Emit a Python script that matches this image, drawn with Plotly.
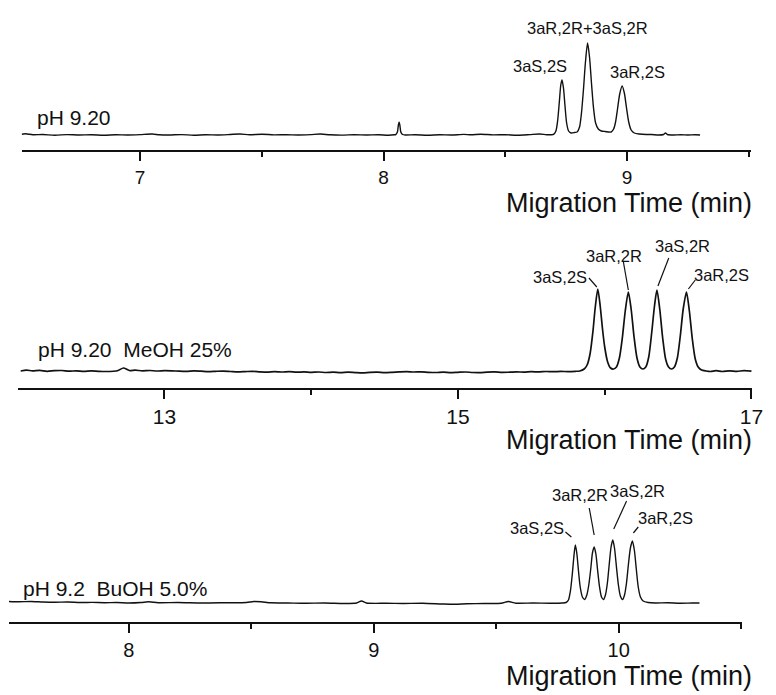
import plotly.graph_objects as go

# ---------------- DATA ----------------
# Panel 1: pH 9.20
t1 = [6.514, 6.53, 6.56, 6.60, 6.65, 6.70, 6.75, 6.80, 6.85, 6.90, 6.95, 7.00, 7.05, 7.08,
      7.12, 7.17, 7.22, 7.27, 7.32, 7.37, 7.41, 7.45, 7.50, 7.55, 7.60, 7.65, 7.70, 7.74,
      7.78, 7.83, 7.88, 7.93, 7.98, 8.02, 8.045, 8.050, 8.057, 8.061, 8.064, 8.067, 8.071,
      8.078, 8.09, 8.13, 8.18, 8.23, 8.28, 8.33, 8.36, 8.40, 8.45, 8.50, 8.55, 8.60, 8.64,
      8.67, 8.69,
      8.698, 8.708, 8.715, 8.722, 8.728, 8.733, 8.739, 8.745, 8.752, 8.760, 8.770, 8.785,
      8.795, 8.805, 8.813, 8.821, 8.829, 8.838, 8.846, 8.854, 8.862, 8.871, 8.882, 8.895, 8.91,
      8.935, 8.945, 8.953, 8.961, 8.970, 8.980, 8.989, 8.998, 9.007, 9.017, 9.03, 9.05, 9.08,
      9.10, 9.13, 9.15, 9.158, 9.166, 9.19, 9.22, 9.25, 9.28, 9.30]
s1 = [0.8, 1.2, 0.2, 0.5, -0.2, 0.4, 0.0, 0.3, -0.2, 0.2, 0.0, 0.4, 1.0, 0.2,
      0.0, 0.4, -0.2, 0.3, 0.0, 0.5, 1.0, 0.2, 0.8, 0.1, 0.3, 0.0, 0.4, 1.0,
      0.2, -0.1, 0.3, 0.0, 0.2, -0.2, 0.2, 0.4, 3.0, 10.0, 13.0, 10.0, 3.0,
      0.5, 0.0, 0.3, -0.2, 0.2, 0.0, 0.6, 0.2, 0.8, 0.1, 0.3, -0.2, 0.4, 1.0,
      0.3, 0.3,
      0.6, 4.0, 14.0, 33.0, 50.0, 55.0, 47.0, 30.0, 12.0, 4.0, 2.0, 2.5,
      3.0, 8.0, 22.0, 45.0, 72.0, 92.0, 78.0, 52.0, 28.0, 12.0, 6.0, 4.0, 3.5,
      3.0, 6.0, 13.0, 26.0, 41.0, 49.0, 42.0, 27.0, 13.0, 5.0, 2.0, 1.0, 0.5,
      0.5, 0.0, 0.5, 2.0, 0.5, 0.0, 0.3, 0.0, 0.3, 0.0]

# Panel 2: pH 9.20 MeOH 25%
t2 = [12.02, 12.06, 12.1, 12.15, 12.2, 12.25, 12.3, 12.35, 12.4, 12.45, 12.5, 12.55, 12.6,
      12.68, 12.72, 12.76, 12.80, 12.85, 12.90, 12.95, 13.0, 13.05,
      13.1, 13.15, 13.2, 13.25, 13.3, 13.35, 13.4, 13.45, 13.5, 13.55, 13.6, 13.65, 13.7, 13.75,
      13.8, 13.85, 13.9, 13.95, 14.0, 14.05, 14.1, 14.15, 14.2, 14.25,
      14.3, 14.35, 14.4, 14.45, 14.5, 14.55, 14.6, 14.65, 14.7, 14.75, 14.8, 14.85, 14.9, 14.95,
      15.0, 15.05, 15.1, 15.15, 15.2, 15.25, 15.3, 15.35, 15.4, 15.45,
      15.5, 15.55, 15.6, 15.65, 15.7, 15.75, 15.80,
      15.83, 15.86, 15.88, 15.90, 15.92, 15.935, 15.953, 15.97, 15.985, 16.00, 16.02, 16.04, 16.06,
      16.08, 16.10, 16.12, 16.14, 16.161, 16.18, 16.20, 16.22, 16.24, 16.26,
      16.28, 16.30, 16.32, 16.34, 16.356, 16.375, 16.395, 16.415, 16.435, 16.455,
      16.475, 16.495, 16.515, 16.535, 16.557, 16.577, 16.597, 16.617, 16.637, 16.66, 16.69,
      16.72, 16.76, 16.80, 16.85, 16.90, 16.95, 17.0]
s2 = [0.0, 0.8, 0.2, 0.6, -0.3, 0.3, 0.5, -0.2, 0.2, -0.4, 0.1, -0.3, -0.5,
      0.3, 3.0, 0.5, 0.8, 0.2, 0.5, 0.0, 0.4, 0.2,
      -0.2, -0.4, 0.1, -0.2, -0.6, -0.3, -0.1, -0.5, -0.9, -0.6, -0.3, -0.8, -1.1, -0.7,
      -1.0, -0.6, -1.2, -0.9, -1.3, -1.0, -1.5, -1.2, -1.7, -1.2,
      -1.6, -1.9, -1.3, -1.1, -1.6, -1.3, -0.9, -0.6, -1.0, -0.8, -1.3, -1.5, -1.1, -1.7,
      -1.3, -1.0, -1.5, -1.6, -1.1, -0.9, -1.4, -1.2, -0.9, -1.1,
      -0.7, -0.9, -0.5, -0.7, -0.4, -0.6, -0.3,
      0.0, 2.0, 6.0, 17.0, 40.0, 63.0, 82.0, 64.0, 42.0, 24.0, 9.0, 3.0, 2.0,
      4.0, 13.0, 33.0, 60.0, 79.0, 62.0, 34.0, 13.0, 4.0, 2.0,
      4.0, 14.0, 38.0, 66.0, 81.0, 62.0, 33.0, 12.0, 4.0, 2.0,
      4.0, 13.0, 35.0, 62.0, 79.0, 60.0, 32.0, 12.0, 4.0, 1.0, 0.0,
      -0.5, 0.3, -0.5, 0.2, -0.3, 0.3, -0.2]

# Panel 3: pH 9.2 BuOH 5.0%
t3 = [7.51, 7.55, 7.60, 7.65, 7.70, 7.75, 7.80, 7.85, 7.90, 7.95, 8.00, 8.05, 8.08, 8.12,
      8.20, 8.30, 8.40, 8.48, 8.51, 8.54, 8.58, 8.65, 8.72, 8.80, 8.88, 8.93, 8.95, 8.97,
      9.05, 9.12, 9.20, 9.28, 9.33, 9.38, 9.45, 9.52, 9.55, 9.58, 9.65, 9.72, 9.77,
      9.785, 9.795, 9.803, 9.810, 9.817, 9.823, 9.829, 9.836, 9.843, 9.852, 9.861,
      9.870, 9.878, 9.886, 9.893, 9.900, 9.907, 9.914, 9.922, 9.930, 9.938,
      9.946, 9.954, 9.962, 9.969, 9.976, 9.983, 9.991, 9.999, 10.007, 10.016,
      10.024, 10.032, 10.040, 10.048, 10.056, 10.064, 10.072, 10.080, 10.089, 10.10,
      10.12, 10.15, 10.20, 10.25, 10.30, 10.33]
s3 = [1.5, 1.2, 1.5, 1.0, 0.8, 1.0, 0.5, 0.6, 0.3, 0.5, 0.0, 0.5, 1.2, 0.3,
      0.5, 0.0, 0.3, 0.5, 1.5, 1.2, 0.2, 0.0, -0.3, 0.0, -0.5, 0.0, 2.0, 0.0,
      -0.3, -0.5, -0.3, -1.0, -1.3, -0.8, -0.5, -0.3, 1.5, -0.2, 0.0, -0.2, 0.0,
      0.5, 3.0, 12.0, 27.0, 46.0, 58.0, 50.0, 32.0, 16.0, 6.0, 3.5,
      8.0, 18.0, 34.0, 50.0, 56.0, 49.0, 33.0, 16.0, 6.0, 3.5,
      8.0, 20.0, 40.0, 56.0, 63.0, 55.0, 36.0, 18.0, 7.0, 3.5,
      8.0, 20.0, 39.0, 55.0, 62.0, 53.0, 34.0, 16.0, 6.0, 2.0,
      0.5, 0.0, 0.3, -0.2, 0.0, 0.0]

# Peak tables (apex time, apex signal) and labels
peaks1_t = [8.733, 8.838, 8.980]
peaks1_h = [55, 92, 49]
labels1 = ["3aS,2S", "3aR,2R+3aS,2R", "3aR,2S"]

peaks2_t = [15.953, 16.161, 16.356, 16.557]
peaks2_h = [82, 79, 81, 79]
labels2 = ["3aS,2S", "3aR,2R", "3aS,2R", "3aR,2S"]

peaks3_t = [9.823, 9.900, 9.976, 10.056]
peaks3_h = [58, 56, 63, 62]
labels3 = ["3aS,2S", "3aR,2R", "3aS,2R", "3aR,2S"]

conditions = ["pH 9.20", "pH 9.20  MeOH 25%", "pH 9.2  BuOH 5.0%"]
x_title = "Migration Time (min)"

major1 = [7, 8, 9]
minor1 = [7.5, 8.5, 9.5]
major2 = [13, 15, 17]
minor2 = [14, 16]
major3 = [8, 9, 10]
minor3 = [8.5, 9.5, 10.5]

# ---------------- STYLE / LAYOUT ----------------
W, H = 776, 695
FONT = "Liberation Sans, Arial, sans-serif"
INK = "#111111"

panels = [
    dict(t=t1, s=s1, pt=peaks1_t, ph=peaks1_h, lab=labels1, cond=conditions[0],
         major=major1, minor=minor1, xr=[6.514, 9.51], xpx=[22, 762],
         ypx=[15, 150], base_px=135, tickfont=19, cond_xy=(35, 117), title_y=203,
         lab_off=[(-22, 14), (0, 15), (16, 14)], leaders=None, lw=1.4, ticklen=9),
    dict(t=t2, s=s2, pt=peaks2_t, ph=peaks2_h, lab=labels2, cond=conditions[1],
         major=major2, minor=minor2, xr=[12.0, 17.005], xpx=[18, 763],
         ypx=[235, 388], base_px=371, tickfont=21, cond_xy=(37, 349), title_y=440,
         lab_off=[(-38, 12), (-15, 36), (26, 44), (36, 17)],
         leaders=[((-9, 11), (-1, 2)), ((-5, 30), (0, 2)), ((12, 32), (1, 4)), ((9, 12), (2, 3))],
         lw=1.7, ticklen=9),
    dict(t=t3, s=s3, pt=peaks3_t, ph=peaks3_h, lab=labels3, cond=conditions[2],
         major=major3, minor=minor3, xr=[7.51, 10.505], xpx=[9, 753],
         ypx=[470, 622], base_px=603, tickfont=20, cond_xy=(21, 588), title_y=676,
         lab_off=[(-39, 17), (-14, 52), (25, 49), (34, 23)],
         leaders=[((-10, 13), (-4, 8)), ((-5, 39), (0, 12)), ((14, 39), (1, 11)), ((6, 14), (1, 8))],
         lw=1.4, ticklen=9),
]

fig = go.Figure()
layout = dict(width=W, height=H, margin=dict(l=0, r=0, t=0, b=0),
              paper_bgcolor="white", plot_bgcolor="white", showlegend=False,
              font=dict(family=FONT, color=INK))
annotations = []
shapes = []

for i, p in enumerate(panels, start=1):
    xa = "x" if i == 1 else f"x{i}"
    ya = "y" if i == 1 else f"y{i}"
    fig.add_trace(go.Scatter(x=p["t"], y=p["s"], mode="lines", xaxis=xa, yaxis=ya,
                             line=dict(color=INK, width=p["lw"], shape="spline", smoothing=0.7),
                             hoverinfo="skip"))
    ytop_px, ybot_px = p["ypx"]
    ylo = -(ybot_px - p["base_px"])
    yhi = ylo + (ybot_px - ytop_px)
    layout[f"xaxis{'' if i == 1 else i}"] = dict(
        domain=[p["xpx"][0] / W, p["xpx"][1] / W], range=p["xr"], anchor=ya,
        showline=True, linewidth=2, linecolor=INK, showgrid=False, zeroline=False,
        ticks="outside", ticklen=p["ticklen"], tickwidth=2, tickcolor=INK,
        tickmode="array", tickvals=p["major"], ticktext=[str(v) for v in p["major"]],
        tickfont=dict(size=p["tickfont"], family=FONT, color=INK),
        minor=dict(tickmode="array", tickvals=p["minor"], ticks="outside", ticklen=5,
                   tickwidth=2, tickcolor=INK, showgrid=False),
        fixedrange=True)
    layout[f"yaxis{'' if i == 1 else i}"] = dict(
        domain=[1 - ybot_px / H, 1 - ytop_px / H], range=[ylo, yhi], anchor=xa,
        visible=False, fixedrange=True)

    ppm = (p["xpx"][1] - p["xpx"][0]) / (p["xr"][1] - p["xr"][0])  # px per minute
    for j, (tt, hh, lab) in enumerate(zip(p["pt"], p["ph"], p["lab"])):
        dx, dy = p["lab_off"][j]
        annotations.append(dict(x=tt + dx / ppm, y=hh + dy, xref=xa, yref=ya, text=lab,
                                showarrow=False, xanchor="center", yanchor="middle",
                                font=dict(size=16.5, family=FONT, color=INK)))
        if p["leaders"]:
            (ax0, ay0), (ax1, ay1) = p["leaders"][j]
            shapes.append(dict(type="line", xref=xa, yref=ya,
                               x0=tt + ax0 / ppm, y0=hh + ay0, x1=tt + ax1 / ppm, y1=hh + ay1,
                               line=dict(color=INK, width=1.2)))
    cx, cy = p["cond_xy"]
    annotations.append(dict(x=cx / W, y=1 - cy / H, xref="paper", yref="paper",
                            text=p["cond"].replace("  ", " \u00a0"), showarrow=False,
                            xanchor="left", yanchor="middle",
                            font=dict(size=21, family=FONT, color=INK)))
    annotations.append(dict(x=764 / W, y=1 - p["title_y"] / H, xref="paper", yref="paper",
                            text=x_title, showarrow=False, xanchor="right", yanchor="middle",
                            borderpad=0,
                            font=dict(size=27, family=FONT, color=INK)))

layout["annotations"] = annotations
layout["shapes"] = shapes
fig.update_layout(**layout)
fig.write_html("out.html", config={"displayModeBar": False},
               post_script="document.body.style.margin='0';document.body.style.padding='0';")
